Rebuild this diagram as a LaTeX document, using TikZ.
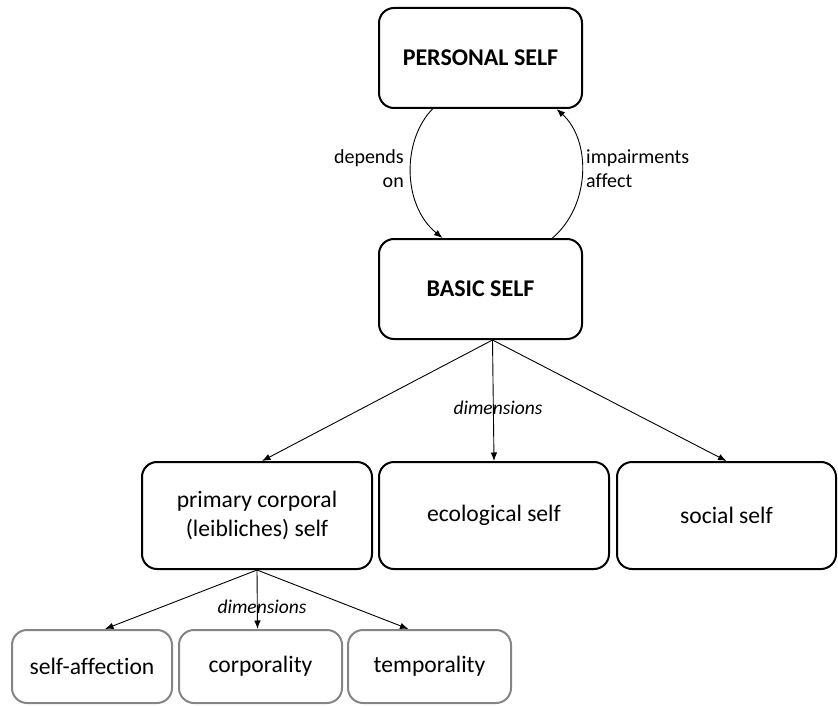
\documentclass[tikz,border=0pt]{standalone}
\usepackage{fontspec}
\setmainfont{Carlito}[Ligatures=NoCommon]
\usetikzlibrary{arrows.meta,calc}
\tikzset{
  selfbox/.style={draw=black, line width=2pt, rounded corners=15pt, align=center,
    inner sep=0pt, font=\fontsize{23.6}{29}\selectfont},
  topbox/.style={selfbox, minimum width=203pt, minimum height=100pt,
    font=\fontsize{24}{29}\selectfont\bfseries},
  dimbox/.style={selfbox, draw=black!48},
  link/.style={line width=0.9pt, -{Latex[length=8.5pt,width=6.5pt]}},
  note/.style={inner sep=0pt, font=\fontsize{20}{24}\selectfont},
  dimlabel/.style={inner sep=0pt, font=\fontsize{19.5}{24}\selectfont\itshape},
}
\begin{document}
\begin{tikzpicture}[x=1pt,y=-1pt]
  \useasboundingbox (0,0) rectangle (838,706);

  % top level
  \node[topbox] (personal) at (480.5,58) {PERSONAL SELF};
  \node[topbox] (basic) at (480.5,289) {BASIC SELF};

  % dimensions of the basic self
  \node[selfbox, minimum width=230pt, minimum height=107pt] (prim) at (257,515.5)
    {primary corporal\\(leibliches) self};
  \node[selfbox, minimum width=230pt, minimum height=107pt] (eco) at (494,515.5)
    {ecological self};
  \node[selfbox, minimum width=219pt, minimum height=107pt] (soc) at (726.5,515.5)
    {social self};

  % dimensions of the corporal self
  \node[dimbox, minimum width=160pt, minimum height=73pt] (aff) at (92,666.5) {self-affection};
  \node[dimbox, minimum width=163pt, minimum height=73pt] (corp) at (260.5,666.5) {corporality};
  \node[dimbox, minimum width=163pt, minimum height=73pt] (temp) at (429.5,666.5) {temporality};

  % mutual relation between the two levels
  \coordinate (pl) at ($(personal.south)+(-48,0)$);
  \coordinate (bl) at ($(basic.north)+(-38,0)$);
  \coordinate (br) at ($(basic.north)+(72,0)$);
  \coordinate (pr) at ($(personal.south)+(76,0)$);
  \draw[link] (pl) .. controls (402,140) and (402,205) .. (bl);
  \draw[link] (br) .. controls (591,205) and (591,140) .. (pr);
  \node[note, align=right, anchor=east] (dep) at (404,169) {depends\\on};
  \node[note, align=left, anchor=west] (imp) at (586,169) {impairments\\affect};

  % arrows to the dimensions
  \coordinate (bs) at ($(basic.south)+(12,0)$);
  \draw[link] (bs) -- ($(prim.north)+(5,0)$);
  \draw[link] (bs) -- (eco.north);
  \draw[link] (bs) -- (soc.north);
  \node[dimlabel] (dim1) at (498,408) {dimensions};

  \draw[link] (prim.south) -- ($(aff.north)+(13,0)$);
  \draw[link] (prim.south) -- ($(corp.north)+(-3,0)$);
  \draw[link] (prim.south) -- ($(temp.north)+(-21,0)$);
  \node[dimlabel] (dim2) at (262,607) {dimensions};
\end{tikzpicture}
\end{document}
